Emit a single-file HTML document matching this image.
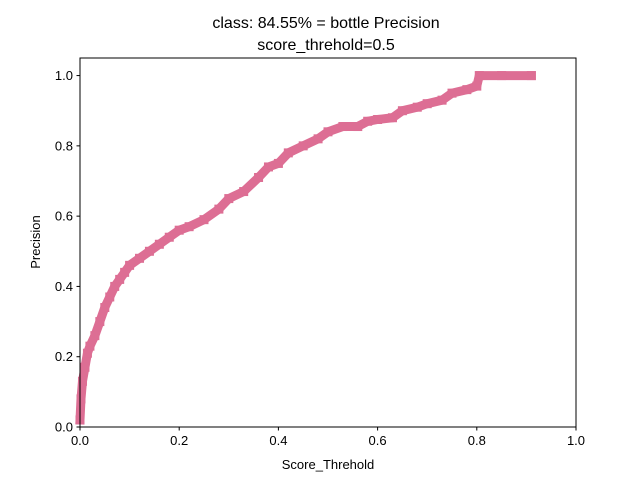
<!DOCTYPE html>
<html><head><meta charset="utf-8"><style>
body{margin:0;background:#fff;}
svg text{font-family:"Liberation Sans","DejaVu Sans",sans-serif;fill:#000;}
</style></head><body>
<svg id="chart" width="640" height="480" viewBox="0 0 640 480">
<rect width="640" height="480" fill="#fff"/>
<text x="326" y="28" font-size="16" text-anchor="middle">class: 84.55% = bottle Precision</text>
<text x="326" y="50" font-size="16" text-anchor="middle">score_threhold=0.5</text>
<g id="marks"></g>
<rect x="80" y="58" width="496" height="369" fill="none" stroke="#000" stroke-width="1"/>
<g id="axes"></g>
<text x="328" y="469" font-size="13" text-anchor="middle">Score_Threhold</text>
<text x="40" y="242" font-size="13" text-anchor="middle" transform="rotate(-90 40 242)">Precision</text>
</svg>
<script>
const scores=[0,0.002,0.005,0.01,0.015,0.02,0.03,0.04,0.05,0.06,0.07,0.08,0.09,0.1,0.12,0.14,0.16,0.18,0.2,0.22,0.25,0.28,0.3,0.33,0.36,0.38,0.4,0.42,0.45,0.48,0.5,0.53,0.56,0.58,0.6,0.63,0.65,0.68,0.7,0.73,0.75,0.78,0.8,0.805,0.85,0.91];
const precision=[0.02,0.08,0.13,0.17,0.21,0.23,0.26,0.3,0.34,0.37,0.4,0.42,0.44,0.46,0.48,0.5,0.52,0.54,0.56,0.57,0.59,0.62,0.65,0.67,0.71,0.74,0.75,0.78,0.8,0.82,0.84,0.855,0.855,0.87,0.875,0.88,0.9,0.91,0.92,0.93,0.95,0.96,0.97,1.0,1.0,1.0];
const xTicks=[0,0.2,0.4,0.6,0.8,1.0];
const yTicks=[0,0.2,0.4,0.6,0.8,1.0];
const NS="http://www.w3.org/2000/svg";
function xs(v){return 80+v*496;}
function ys(v){return 427-v/1.05*369;}
const marks=document.getElementById('marks');
const axes=document.getElementById('axes');
const color="#dd6e94";
let d="";
scores.forEach((s,i)=>{d+=(i?"L":"M")+xs(s)+","+ys(precision[i]);});
const p=document.createElementNS(NS,'path');
p.setAttribute('d',d);p.setAttribute('fill','none');p.setAttribute('stroke',color);
p.setAttribute('stroke-width','9');p.setAttribute('stroke-linejoin','miter');p.setAttribute('stroke-linecap','square');


marks.appendChild(p);
scores.forEach((s,i)=>{
 const r=document.createElementNS(NS,'rect');
 r.setAttribute('x',xs(s)-4.5);r.setAttribute('y',ys(precision[i])-4.5);
 r.setAttribute('width',9);r.setAttribute('height',9);r.setAttribute('fill',color);
 
 
 marks.appendChild(r);
});
xTicks.forEach(t=>{
 const l=document.createElementNS(NS,'line');
 l.setAttribute('x1',xs(t));l.setAttribute('x2',xs(t));l.setAttribute('y1',427);l.setAttribute('y2',430.5);l.setAttribute('stroke','#000');
 
 
 axes.appendChild(l);
 const tx=document.createElementNS(NS,'text');
 tx.setAttribute('x',xs(t));tx.setAttribute('y',445);tx.setAttribute('font-size','13');tx.setAttribute('text-anchor','middle');
 tx.textContent=t.toFixed(1);
 
 
 axes.appendChild(tx);
});
yTicks.forEach(t=>{
 const l=document.createElementNS(NS,'line');
 l.setAttribute('x1',76.5);l.setAttribute('x2',80);l.setAttribute('y1',ys(t));l.setAttribute('y2',ys(t));l.setAttribute('stroke','#000');
 
 
 axes.appendChild(l);
 const tx=document.createElementNS(NS,'text');
 tx.setAttribute('x',73);tx.setAttribute('y',ys(t)+4.5);tx.setAttribute('font-size','13');tx.setAttribute('text-anchor','end');
 tx.textContent=t.toFixed(1);
 
 
 axes.appendChild(tx);
});
</script>
</body></html>
